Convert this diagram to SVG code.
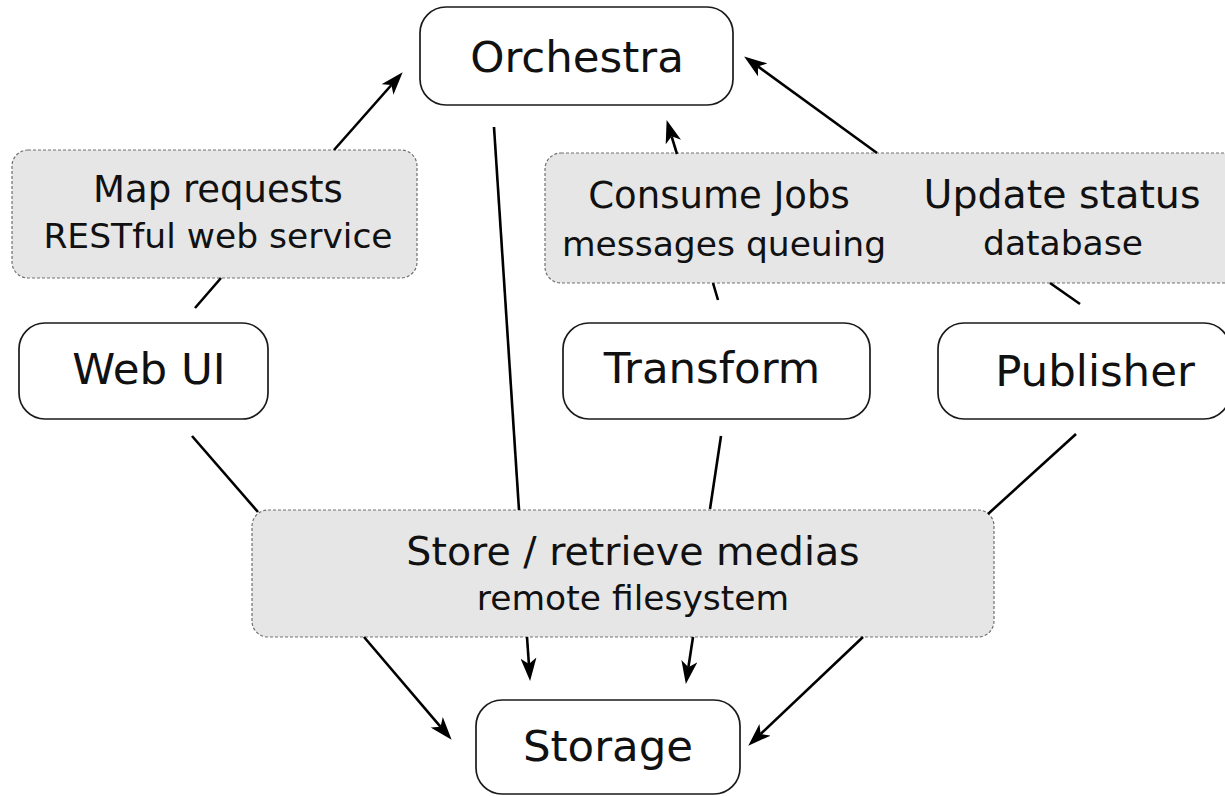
<svg xmlns="http://www.w3.org/2000/svg" width="1225" height="796" viewBox="0 0 1225 796">
<style>
.node{fill:#ffffff;stroke:#1a1a1a;stroke-width:1.7}
.band{fill:#e6e6e6;stroke:#707070;stroke-width:1.2;stroke-dasharray:3 2}
.lbl{font-family:"DejaVu Sans",sans-serif;font-size:43.5px;fill:#111;text-anchor:middle}
.t1{font-family:"DejaVu Sans",sans-serif;font-size:37px;fill:#111;text-anchor:middle}
.t2{font-family:"DejaVu Sans",sans-serif;font-size:34.5px;fill:#111;text-anchor:middle}
.c{stroke:#000;stroke-width:2.6;fill:none}
.a{marker-end:url(#arr)}
</style>
<defs>
<marker id="arr" markerUnits="userSpaceOnUse" viewBox="0 0 23 16" markerWidth="23" markerHeight="16" refX="6" refY="8" orient="auto">
<path d="M0,0 L23,8 L0,16 L6,8 Z" fill="#000"/>
</marker>
</defs>
<rect width="1225" height="796" fill="#ffffff"/>

<g id="map-requests">
<rect class="band" x="12" y="150" width="405" height="128" rx="16"/>
<text class="t1" x="218" y="202">Map requests</text>
<text class="t2" x="218" y="248">RESTful web service</text>
</g>
<g id="jobs-status">
<rect class="band" x="545" y="153" width="700" height="130" rx="16"/>
<text class="t1" x="719" y="208">Consume Jobs</text>
<text class="t2" x="724" y="256">messages queuing</text>
<text class="t1" x="1062" y="208" style="font-size:39.5px">Update status</text>
<text class="t2" x="1063" y="255">database</text>
</g>
<g id="store-retrieve">
<rect class="band" x="252" y="510" width="742" height="127" rx="16"/>
<text class="t1" x="633" y="565" style="font-size:39.5px">Store / retrieve medias</text>
<text class="t2" x="633" y="610">remote filesystem</text>
</g>

<g id="connectors">
<line class="c a" x1="334" y1="150" x2="391.4" y2="85"/>
<line class="c" x1="195" y1="308" x2="221" y2="278"/>
<line class="c" x1="494" y1="127" x2="519" y2="510"/>
<line class="c a" x1="677" y1="154" x2="671.6" y2="136.3"/>
<line class="c a" x1="877" y1="153" x2="757.9" y2="66.4"/>
<line class="c" x1="713" y1="283" x2="718" y2="300"/>
<line class="c" x1="1050" y1="283" x2="1080" y2="304"/>
<line class="c" x1="192" y1="436" x2="258" y2="512"/>
<line class="c" x1="721" y1="436" x2="710" y2="509"/>
<line class="c" x1="1076" y1="434" x2="988" y2="514"/>
<line class="c a" x1="364" y1="637" x2="440.6" y2="726.8"/>
<line class="c a" x1="527" y1="637" x2="528.9" y2="664"/>
<line class="c a" x1="693" y1="637" x2="688.4" y2="667.2"/>
<line class="c a" x1="863" y1="637" x2="760.6" y2="734"/>
</g>

<g id="orchestra">
<rect class="node" x="420" y="7" width="313" height="98" rx="26"/>
<text class="lbl" x="577" y="72">Orchestra</text>
</g>
<g id="web-ui">
<rect class="node" x="19" y="323" width="249" height="96" rx="26"/>
<text class="lbl" x="149" y="384">Web UI</text>
</g>
<g id="transform">
<rect class="node" x="563" y="323" width="307" height="96" rx="26"/>
<text class="lbl" x="712" y="383">Transform</text>
</g>
<g id="publisher">
<rect class="node" x="938" y="323" width="292" height="96" rx="26"/>
<text class="lbl" x="1095" y="386">Publisher</text>
</g>
<g id="storage">
<rect class="node" x="476" y="700" width="264" height="94" rx="26"/>
<text class="lbl" x="608" y="761">Storage</text>
</g>
</svg>
